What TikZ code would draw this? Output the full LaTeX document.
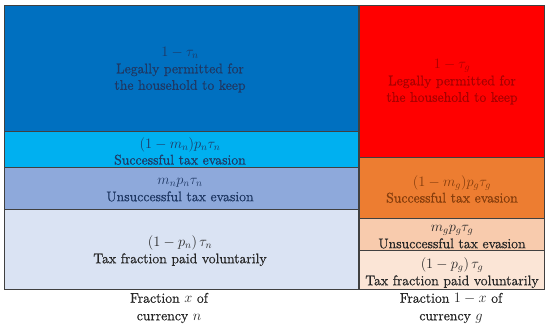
\documentclass[tikz,border=0pt]{standalone}
\usepackage{tikz}
\usepackage{fontspec}
\setmainfont{Latin Modern Roman}[FakeBold=0.7]
\definecolor{dblue}{HTML}{0070C0}
\definecolor{lblue}{HTML}{00B0F0}
\definecolor{mblue}{HTML}{8EA9DB}
\definecolor{pblue}{HTML}{DAE3F3}
\definecolor{bred}{HTML}{FF0000}
\definecolor{borange}{HTML}{ED7D31}
\definecolor{bpeach}{HTML}{F8CBAD}
\definecolor{bpale}{HTML}{FBE5D6}
\definecolor{navytxt}{HTML}{1F3864}
\definecolor{redtxt}{HTML}{A80000}
\definecolor{browntxt}{HTML}{843C0C}
\definecolor{graytxt}{HTML}{262626}
\tikzset{
  blk/.style={draw=black!75, line width=0.6pt},
  lbl/.style={align=center, font=\fontsize{14}{16.5}\selectfont, inner sep=0pt},
  captext/.style={align=center, font=\fontsize{14}{17.5}\selectfont, inner sep=0pt, text=graytxt}
}
\begin{document}
\begin{tikzpicture}[x=1pt,y=-1pt]
\useasboundingbox (0,0) rectangle (550,329);
% left column
\path[blk, fill=dblue] (4,5) rectangle (358,131);
\path[blk, fill=lblue] (4,131) rectangle (358,167);
\path[blk, fill=mblue] (4,167) rectangle (358,209);
\path[blk, fill=pblue] (4,209) rectangle (358,289);
% right column
\path[blk, fill=bred] (359,5) rectangle (544,157);
\path[blk, fill=borange] (359,157) rectangle (544,218);
\path[blk, fill=bpeach] (359,218) rectangle (544,250);
\path[blk, fill=bpale] (359,250) rectangle (544,289);

\node[lbl, text=navytxt] (n1) at (180,70) {$1-\tau_n$\\Legally permitted for\\the household to keep};
\node[lbl, text=navytxt] (n2) at (180,151) {$(1-m_n)p_n\tau_n$\\Successful tax evasion};
\node[lbl, text=navytxt] (n3) at (180,190) {$m_np_n\tau_n$\\Unsuccessful tax evasion};
\node[lbl, text=graytxt] (n4) at (180,251) {$(1-p_n)\,\tau_n$\\Tax fraction paid voluntarily};

\node[lbl, text=redtxt] (g1) at (452,82) {$1-\tau_g$\\Legally permitted for\\the household to keep};
\node[lbl, text=browntxt] (g2) at (452,189) {$(1-m_g)p_g\tau_g$\\Successful tax evasion};
\node[lbl, text=graytxt] (g3) at (452,237) {$m_gp_g\tau_g$\\Unsuccessful tax evasion};
\node[lbl, text=graytxt] (g4) at (452,273) {$(1-p_g)\,\tau_g$\\Tax fraction paid voluntarily};

\node[captext] (cn) at (169,308) {Fraction $x$ of\\currency $n$};
\node[captext] (cg) at (451,308) {Fraction $1-x$ of\\currency $g$};
\end{tikzpicture}
\end{document}
